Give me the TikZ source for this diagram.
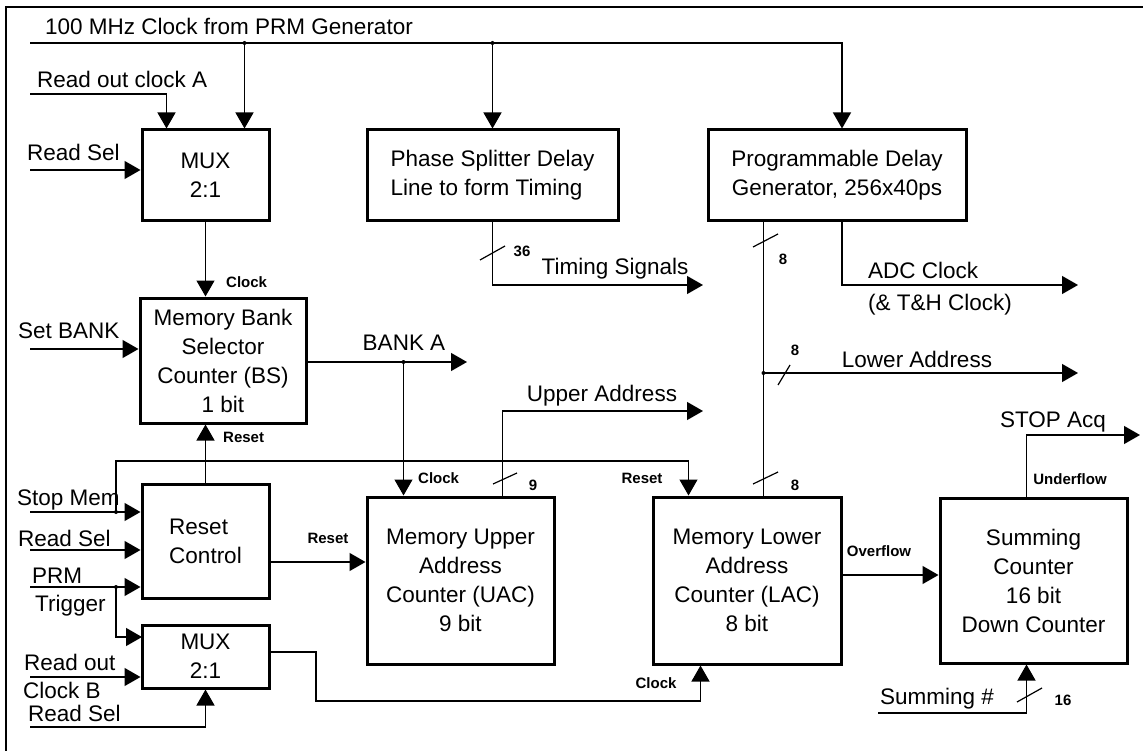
\documentclass[tikz,border=0pt]{standalone}
\usepackage{fontspec}
\setmainfont{Liberation Sans}
\usetikzlibrary{arrows.meta,calc}
\begin{document}
\begin{tikzpicture}[x=1pt,y=-1pt,
  box/.style={draw,line width=3pt,inner sep=0pt,align=center,font=\fontsize{22.5}{29}\selectfont},
  wire/.style={line width=1.3pt},
  arr/.style={wire,-{Triangle[length=16pt,width=18pt]}},
  lbl/.style={font=\fontsize{22.5}{29}\selectfont,inner sep=0pt,text height=16pt,text depth=0pt,anchor=west},
  clbl/.style={lbl,anchor=center},
  sml/.style={font=\bfseries\fontsize{15}{17}\selectfont,inner sep=0pt,text height=11pt,text depth=0pt,anchor=west},
  csml/.style={sml,anchor=center},
  slash/.style={line width=1.2pt}
]
\useasboundingbox (0,0) rectangle (1145,751);
\draw[line width=2pt] (6,751) -- (6,7) -- (1143,7);

% boxes
\node[box,minimum width=127pt,minimum height=91pt] (mux1) at (205.5,175.5) {MUX\\2:1};
\node[box,minimum width=166pt,minimum height=125pt] (bank) at (223,360.5) {Memory Bank\\Selector\\Counter (BS)\\1 bit};
\node[box,minimum width=127pt,minimum height=114pt,align=left] (rst) at (205.5,541) {Reset\\Control};
\node[box,minimum width=127pt,minimum height=63pt] (mux2) at (205.5,656.5) {MUX\\2:1};
\node[box,minimum width=187pt,minimum height=167pt] (uac) at (460.5,580.5) {Memory Upper\\Address\\Counter (UAC)\\9 bit};
\node[box,minimum width=251pt,minimum height=91pt,align=left] (psd) at (492.5,175.5) {Phase Splitter Delay\\Line to form Timing};
\node[box,minimum width=258pt,minimum height=91pt] (pdg) at (837,175.5) {Programmable Delay\\Generator, 256x40ps};
\node[box,minimum width=188pt,minimum height=167pt] (lac) at (747,580.5) {Memory Lower\\Address\\Counter (LAC)\\8 bit};
\node[box,minimum width=187pt,minimum height=165pt] (sum) at (1033.5,580.5) {Summing\\Counter\\16 bit\\Down Counter};

% free ends and bends
\coordinate (clkin) at (30,43);
\coordinate (rocA) at (30,94);
\coordinate (rs1) at (30,170);
\coordinate (setb) at (30,349);
\coordinate (stopm) at (30,512);
\coordinate (rs2) at (30,550);
\coordinate (prm) at (30,587);
\coordinate (rocB) at (30,677);
\coordinate (rs3) at (30,727);
\coordinate (sumn) at (878,713);
\coordinate (bankA) at (467,362);
\coordinate (uaddr) at (703,411);
\coordinate (tsig) at (703,285);
\coordinate (adc) at (1078,285);
\coordinate (laddr) at (1078,373);
\coordinate (stopacq) at (1140,435);
\coordinate (j1) at (116,512);
\coordinate (j2) at (116,587);
\coordinate (rbus) at (116,461);
\coordinate (m2in) at (142,637);
\coordinate (m2o) at (269,652);
\coordinate (m2b) at (316,701);
\coordinate (rco) at (269,562);
\coordinate (ovf) at (841,575);

\coordinate (m1a) at ($(mux1.north west)+(26,0)$);
\coordinate (m1b) at ($(mux1.north east)+(-26,0)$);
\coordinate (pdgin) at ($(pdg.north)+(5,0)$);
\coordinate (uacclk) at ($(uac.north west)+(38,0)$);
\coordinate (uacout) at ($(uac.north west)+(137,0)$);
\coordinate (lacrst) at ($(lac.north west)+(37,0)$);
\coordinate (lacbus) at ($(lac.north west)+(112,0)$);
\coordinate (lacclk) at ($(lac.south west)+(49,0)$);
\coordinate (sumtop) at ($(sum.north west)+(88,0)$);
\coordinate (sumbot) at ($(sum.south west)+(88,0)$);
\coordinate (pdgo1) at ($(pdg.south west)+(57,0)$);
\coordinate (pdgo2) at ($(pdg.south)+(5,0)$);

% connectors
\draw[arr] (clkin) -| (pdgin);
\draw[arr] (m1b |- clkin) -- (m1b);
\draw[arr] (psd.north |- clkin) -- (psd.north);
\draw[arr] (rocA) -| (m1a);
\draw[arr] (rs1) -- (rs1 -| mux1.west);
\draw[arr] (mux1.south) -- (mux1.south |- bank.north);
\draw[arr] (setb) -- (setb -| bank.west);
\draw[arr] (bankA -| bank.east) -- (bankA);
\draw[arr] (uacclk |- bankA) -- (uacclk);
\draw[arr] (rst.north) -- (rst.north |- bank.south);
\draw[arr] (stopm) -- (stopm -| rst.west);
\draw[arr] (j1) -- (rbus) -| (lacrst);
\draw[arr] (rs2) -- (rs2 -| rst.west);
\draw[arr] (prm) -- (prm -| rst.west);
\draw[arr] (j2) |- (m2in);
\draw[arr] (rocB) -- (rocB -| mux2.west);
\draw[arr] (rs3) -| (mux2.south);
\draw[arr] (m2o) -| (m2b) -| (lacclk);
\draw[arr] (rco) -- (rco -| uac.west);
\draw[arr] (uacout) |- (uaddr);
\draw[arr] (psd.south) |- (tsig);
\draw[arr] (pdgo2) |- (adc);
\draw[wire] (pdgo1) -- (lacbus);
\draw[arr] (pdgo1 |- laddr) -- (laddr);
\draw[arr] (ovf) -- (ovf -| sum.west);
\draw[arr] (sumtop) |- (stopacq);
\draw[arr] (sumn) -| (sumbot);

% junction dots
\foreach \p in {(m1b |- clkin),(psd.north |- clkin),(uacclk |- bankA),(j1),(j2),(pdgo1 |- laddr)}
  \fill \p circle (2pt);

% bus slashes
\draw[slash] (480,260) -- (505,246);
\draw[slash] (493,484) -- (517,473);
\draw[slash] (753,247) -- (778,234);
\draw[slash] (778,385) -- (790,365);
\draw[slash] (753,484) -- (778,472);
\draw[slash] (1017,702) -- (1042,688);

% labels
\node[lbl] (tclk) at (45,27) {100 MHz Clock from PRM Generator};
\node[lbl] (trocA) at (37,80) {Read out clock A};
\node[lbl] (trs1) at (27,153) {Read Sel};
\node[sml] (tclk1) at (226,282) {Clock};
\node[lbl] (tsetb) at (18,330) {Set BANK};
\node[clbl] (tbankA) at (404,342) {BANK A};
\node[sml] (tclk2) at (418,478) {Clock};
\node[sml] (trst1) at (223,437) {Reset};
\node[lbl] (tstop) at (17,497) {Stop Mem};
\node[lbl] (trs2) at (18,538) {Read Sel};
\node[lbl] (tprm) at (32,575) {PRM};
\node[lbl] (ttrig) at (35,603) {Trigger};
\node[lbl] (trocB1) at (24,662) {Read out};
\node[lbl] (trocB2) at (23,690) {Clock B};
\node[lbl] (trs3) at (28,713) {Read Sel};
\node[csml] (trst2) at (328,538) {Reset};
\node[csml] (trst3) at (642,478) {Reset};
\node[csml] (tclk3) at (656,683) {Clock};
\node[clbl] (tuaddr) at (602,393) {Upper Address};
\node[csml] (t9) at (533,485) {9};
\node[csml] (t36) at (522,251) {36};
\node[clbl] (ttsig) at (615,267) {Timing Signals};
\node[lbl] (tadc1) at (868,270) {ADC Clock};
\node[lbl] (tadc2) at (868,302) {(\& T\&H Clock)};
\node[csml] (t8a) at (783,259) {8};
\node[csml] (t8b) at (795,350) {8};
\node[csml] (t8c) at (795,485) {8};
\node[clbl] (tladdr) at (917,359) {Lower Address};
\node[csml] (tovf) at (879,551) {Overflow};
\node[clbl] (tstopacq) at (1053,419) {STOP Acq};
\node[csml] (tunf) at (1070,479) {Underflow};
\node[clbl] (tsumn) at (937,696) {Summing \#};
\node[csml] (t16) at (1063,700) {16};
\end{tikzpicture}
\end{document}
